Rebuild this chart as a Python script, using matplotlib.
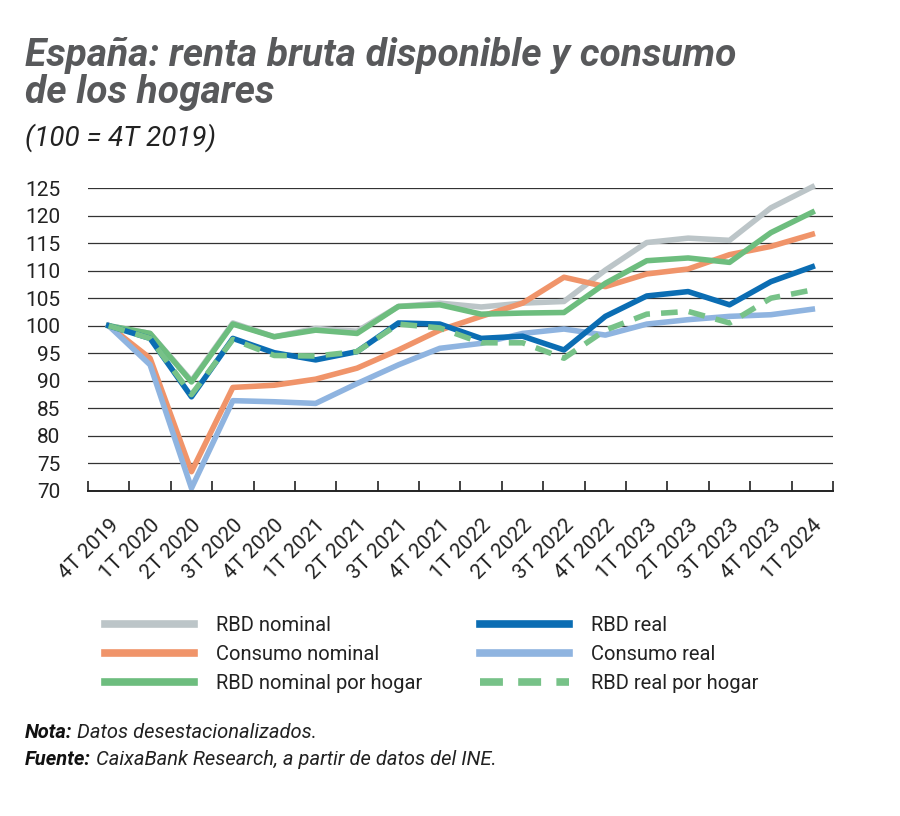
import matplotlib
matplotlib.use('Agg')

import matplotlib.pyplot as plt
import numpy as np

plt.rcParams['font.family'] = ['Roboto', 'DejaVu Sans']

# =========================
# DATA
# =========================
quarters = ["4T 2019", "1T 2020", "2T 2020", "3T 2020", "4T 2020", "1T 2021",
            "2T 2021", "3T 2021", "4T 2021", "1T 2022", "2T 2022", "3T 2022",
            "4T 2022", "1T 2023", "2T 2023", "3T 2023", "4T 2023", "1T 2024"]

rbd_nominal = [100, 98.6, 90.0, 100.5, 98.0, 99.5, 99.0, 103.5, 104.1, 103.4, 104.1, 104.4,
               110.1, 115.1, 115.9, 115.5, 121.4, 125.2]
consumo_nominal = [100, 94.1, 73.5, 88.8, 89.2, 90.3, 92.3, 95.6, 99.2, 101.7, 104.1, 108.8,
                   107.1, 109.4, 110.3, 112.9, 114.4, 116.6]
rbd_nominal_hogar = [100, 98.6, 89.8, 100.3, 98.0, 99.2, 98.6, 103.5, 103.8, 102.1, 102.3, 102.4,
                     107.7, 111.8, 112.3, 111.5, 116.9, 120.6]
rbd_real = [100, 97.7, 87.1, 97.7, 95.1, 93.8, 95.3, 100.5, 100.3, 97.7, 98.1, 95.6,
            101.7, 105.4, 106.2, 103.8, 108.0, 110.7]
consumo_real = [100, 92.9, 70.5, 86.4, 86.2, 85.9, 89.5, 92.9, 95.9, 96.8, 98.6, 99.4,
                98.3, 100.3, 101.1, 101.7, 102.0, 103.0]
rbd_real_hogar = [100, 97.7, 87.5, 97.5, 94.6, 94.5, 95.3, 100.3, 99.6, 96.9, 96.9, 94.1,
                  99.2, 102.1, 102.6, 100.5, 105.0, 106.5]

# =========================
# FIGURE
# =========================
fig = plt.figure(figsize=(9, 8.16), dpi=100)
ax = fig.add_axes([88 / 900, 1 - 491 / 816, 745 / 900, 303 / 816])

x = np.arange(len(quarters))
lw = 4.0
l1, = ax.plot(x, rbd_nominal, color="#bcc5c8", lw=lw, label="RBD nominal", zorder=3, clip_on=False)
l2, = ax.plot(x, consumo_nominal, color="#f0946a", lw=lw, label="Consumo nominal", zorder=4, clip_on=False)
l3, = ax.plot(x, rbd_nominal_hogar, color="#6dbd7e", lw=lw, label="RBD nominal por hogar", zorder=5, clip_on=False)
l5, = ax.plot(x, consumo_real, color="#8fb4e0", lw=lw, label="Consumo real", zorder=6, clip_on=False)
l4, = ax.plot(x, rbd_real, color="#0b6db3", lw=lw, label="RBD real", zorder=7, clip_on=False)
l6, = ax.plot(x, rbd_real_hogar, color="#77c288", lw=lw, ls=(0, (3, 2)), label="RBD real por hogar",
              zorder=8, clip_on=False)

ax.set_xlim(-0.5, len(quarters) - 0.5)
ax.set_ylim(70, 125)
ax.set_yticks(np.arange(70, 126, 5))
ax.yaxis.grid(True, color="#333333", lw=0.9)
ax.set_axisbelow(True)
for s in ["top", "right", "left"]:
    ax.spines[s].set_visible(False)
ax.spines["bottom"].set_color("#222222")
ax.spines["bottom"].set_linewidth(1.4)
ax.spines["bottom"].set_zorder(10)

ax.set_xticks(x)
ax.set_xticklabels(quarters, rotation=45, ha="right", rotation_mode="anchor")
ax.set_xticks(np.arange(-0.5, len(quarters), 1), minor=True)
ax.tick_params(axis="x", which="major", length=0, pad=18, labelsize=15, labelcolor="#222222")
ax.tick_params(axis="x", which="minor", direction="in", length=7, width=1.2, color="#222222")
ax.tick_params(axis="y", length=0, pad=20, labelsize=15, labelcolor="#222222")

# =========================
# TEXTS
# =========================
fig.text(25 / 900, 1 - 66 / 816, "España: renta bruta disponible y consumo", fontsize=28,
         fontweight="bold", fontstyle="italic", color="#58595b", va="baseline")
fig.text(25 / 900, 1 - 103 / 816, "de los hogares", fontsize=28,
         fontweight="bold", fontstyle="italic", color="#58595b", va="baseline")
fig.text(25 / 900, 1 - 146 / 816, "(100 = 4T 2019)", fontsize=20,
         fontstyle="italic", color="#222222", va="baseline")

# legend: two columns placed separately
leg_kw = dict(loc="upper left", frameon=False, fontsize=14.5, handlelength=4.4,
              handletextpad=1.1, labelspacing=0.5, borderaxespad=0, borderpad=0)
leg1 = fig.legend(handles=[l1, l2, l3], bbox_to_anchor=(105 / 900, 1 - 616 / 816), **leg_kw)
leg2 = fig.legend(handles=[l4, l5, l6], bbox_to_anchor=(480 / 900, 1 - 616 / 816), **leg_kw)
for leg in (leg1, leg2):
    for h in leg.get_lines():
        h.set_linewidth(5.5)
    for t in leg.get_texts():
        t.set_color("#222222")

# notes: bold label followed by plain text
notes = [("Nota:", " Datos desestacionalizados.", 738),
         ("Fuente:", " CaixaBank Research, a partir de datos del INE.", 765)]
fig.canvas.draw()
r = fig.canvas.get_renderer()
for lab, rest, ypix in notes:
    t = fig.text(25 / 900, 1 - ypix / 816, lab, fontsize=14.5, fontweight="bold",
                 fontstyle="italic", color="#111111", va="baseline")
    bb = t.get_window_extent(renderer=r)
    fig.text(bb.x1 / fig.bbox.width, 1 - ypix / 816, rest, fontsize=14.5,
             fontstyle="italic", color="#222222", va="baseline")

plt.savefig("out.png", dpi=100)
